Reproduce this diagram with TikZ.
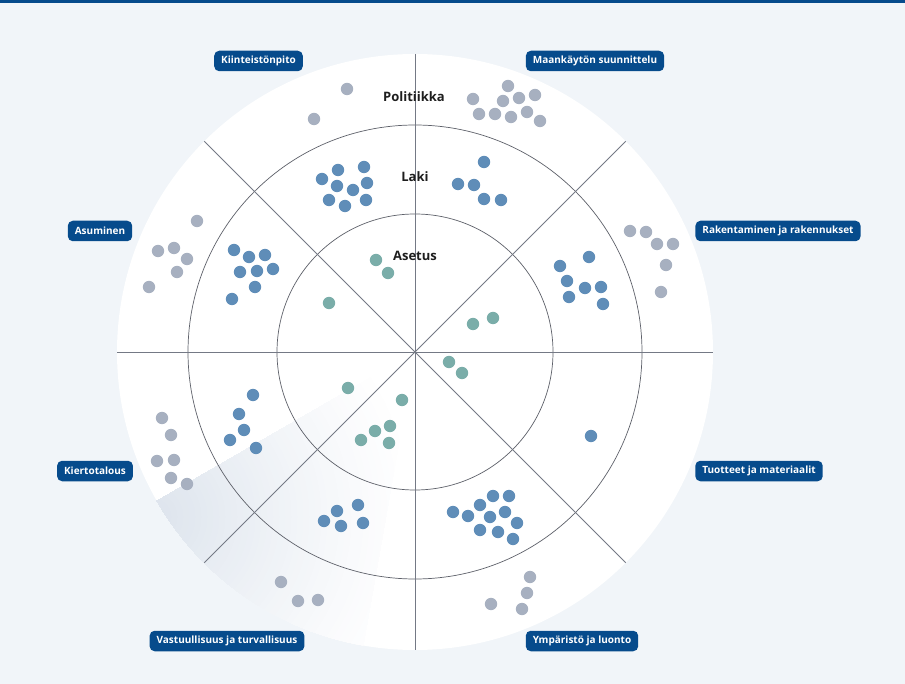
\documentclass[tikz,border=0pt]{standalone}
\usepackage{fontspec}
\setmainfont{Open Sans}
\definecolor{bg}{HTML}{F1F5F9}
\definecolor{navy}{HTML}{064B8C}
\definecolor{dotgray}{HTML}{A7B0C0}
\definecolor{dotblue}{HTML}{5F8DB8}
\definecolor{dotteal}{HTML}{7AADA9}
\definecolor{gridline}{HTML}{747985}
\definecolor{ringline}{HTML}{5E616A}
\definecolor{wedge}{HTML}{DDE4ED}
\definecolor{ink}{HTML}{1E1E1E}
\begin{document}
\begin{tikzpicture}[x=1pt,y=-1pt,
  tag/.style={fill=navy, text=white, rounded corners=5pt, minimum height=20.5pt,
    inner xsep=7pt, inner ysep=0pt, font=\fontsize{10}{12}\selectfont\bfseries},
  ring/.style={text=ink, inner sep=1pt, font=\fontsize{13}{15}\selectfont\bfseries},
  radial/.style={draw=gridline, line width=0.85pt},
  band/.style={draw=ringline, line width=0.7pt},
  gdot/.style={fill=dotgray},
  bdot/.style={fill=dotblue},
  tdot/.style={fill=dotteal}]
\useasboundingbox (0,0) rectangle (905,684);
\fill[bg] (0,0) rectangle (905,684);
\fill[navy] (0,0) rectangle (905,3);
\begin{scope}[shift={(415,352)}]
  \fill[white] (0,0) circle[radius=298pt];
  \begin{scope}
    \clip (0,0) circle[radius=298pt];
    \clip (0,0) -- (150:340) -- (125:420) -- (100:340) -- cycle;
    \foreach \i in {0,...,44} {
      \pgfmathsetmacro{\rr}{270-6*\i}
      \pgfmathsetmacro{\pc}{100*(\i/44)^1.2}
      \fill[wedge!\pc!white] (-262,165) circle[radius=\rr pt];
    }
  \end{scope}
  \draw[band] (0,0) circle[radius=227pt];
  \draw[band] (0,0) circle[radius=138pt];
  \draw[radial] (0,-298) -- (0,298);
  \draw[radial] (-298,0) -- (298,0);
  \draw[radial] (45:298) -- (225:298);
  \draw[radial] (135:298) -- (315:298);
\end{scope}
% gray dots
\foreach \x/\y in {347/89, 314/119,
  508/86, 473/99, 503/101, 519/98, 535/95, 479/114, 495/114, 511/117, 527/112, 540/121,
  197/221, 158/251, 174/248, 187/259, 177/272, 149/287,
  630/231, 646/232, 657/244, 673/244, 666/265, 661/292,
  162/418, 171/435, 157/461, 174/460, 171/478, 187/484,
  281/582, 298/601, 318/600,
  530/577, 527/593, 491/604, 522/609}
  \fill[gdot] (\x,\y) circle[radius=6.2pt];
% blue dots
\foreach \x/\y in {322/179, 338/170, 364/167, 337/186, 353/190, 367/183, 329/200, 345/206, 366/200,
  484/162, 458/184, 474/185, 484/199, 501/200,
  234/250, 249/257, 265/255, 240/272, 257/271, 273/269, 255/287, 232/299,
  589/257, 560/266, 567/281, 585/288, 601/287, 569/297, 603/304,
  591/436,
  253/395, 239/414, 244/430, 230/440, 256/448,
  337/511, 358/505, 324/521, 341/526, 363/523,
  453/512, 468/516, 480/505, 493/496, 509/496, 490/517, 505/512, 480/530, 498/532, 517/523, 513/539}
  \fill[bdot] (\x,\y) circle[radius=6.2pt];
% teal dots
\foreach \x/\y in {376/260, 388/273, 329/303,
  473/324, 493/318,
  449/362, 462/373,
  348/388, 402/400, 375/431, 390/426, 361/440, 389/443}
  \fill[tdot] (\x,\y) circle[radius=6.2pt];
% ring labels
\node[ring] (politiikka) at (414,97) {Politiikka};
\node[ring] (laki) at (415,177) {Laki};
\node[ring] (asetus) at (415,256) {Asetus};
% sector tags
\node[tag] (kiinteisto) at (258.5,61) {Kiinteistönpito};
\node[tag] (maankaytto) at (595,61) {Maankäytön suunnittelu};
\node[tag] (asuminen) at (100,231) {Asuminen};
\node[tag] (rakentaminen) at (778,231) {Rakentaminen ja rakennukset};
\node[tag] (kiertotalous) at (95,471) {Kiertotalous};
\node[tag] (tuotteet) at (759,471) {Tuotteet ja materiaalit};
\node[tag] (vastuullisuus) at (227,641) {Vastuullisuus ja turvallisuus};
\node[tag] (ymparisto) at (582,641) {Ympäristö ja luonto};
\end{tikzpicture}
\end{document}
